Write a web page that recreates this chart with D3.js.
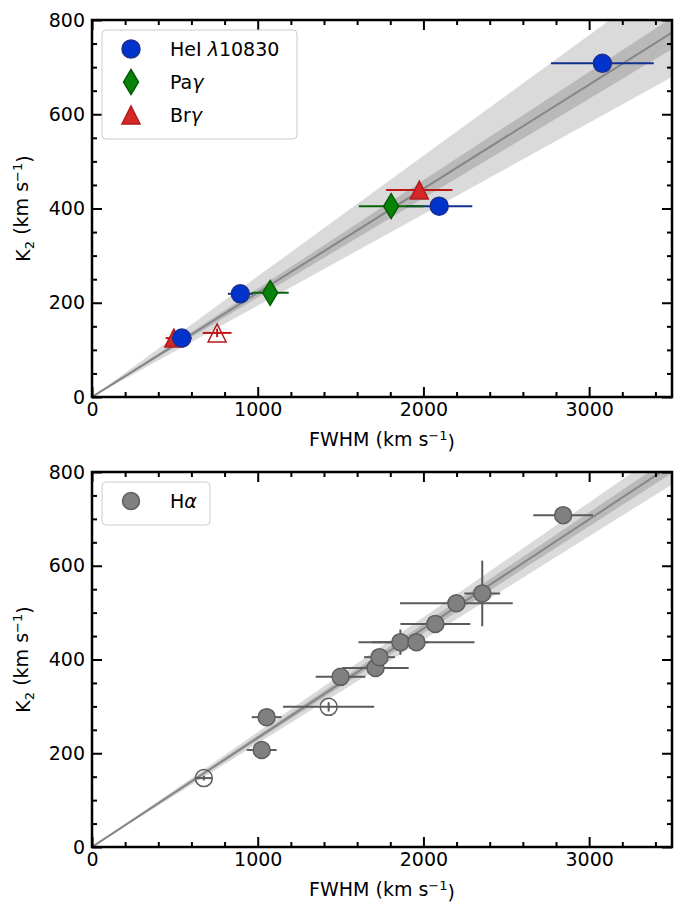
<!DOCTYPE html>
<html>
<head>
<meta charset="utf-8">
<script src="https://cdn.jsdelivr.net/npm/d3@7"></script>
<style>
body { margin: 0; background: #fff; }
text { font-family: "DejaVu Sans", sans-serif; }
</style>
</head>
<body>
<div id="chart"></div>
<script>
// top panel: HeI, Pa gamma, Br gamma
var heiFwhm = [542, 895, 2095, 3080],
    heiFwhmErr = [60, 75, 200, 310],
    heiK2 = [125, 219, 405, 708],
    heiK2Err = [5, 6, 8, 10];

var pagFwhm = [1075, 1805],
    pagFwhmErr = [112, 195],
    pagK2 = [221, 405],
    pagK2Err = [6, 8];

var brgFwhm = [494, 755, 1975],
    brgFwhmErr = [50, 87, 200],
    brgK2 = [125, 136, 439],
    brgK2Err = [5, 9, 8],
    brgOpen = [false, true, false];

// bottom panel: H alpha
var haFwhm = [675, 1024, 1054, 1428, 1500, 1711, 1735, 1861, 1958, 2072, 2199, 2355, 2843],
    haFwhmErr = [50, 90, 90, 275, 150, 200, 93, 170, 350, 211, 340, 108, 180],
    haK2 = [147, 207, 277, 299, 363, 382, 405, 437, 437, 476, 520, 541, 708],
    haK2Err = [5, 5, 5, 10, 5, 5, 8, 27, 5, 5, 5, 70, 5],
    haOpen = [true, false, false, true, false, false, false, false, false, false, false, false, false];

// fitted K2 = slope * FWHM, with 1 and 2 sigma wedges
var topSlope = 0.221, topDark = [0.211, 0.230], topLight = [0.194, 0.256];
var botSlope = 0.233, botDark = [0.228, 0.238], botLight = [0.221, 0.245];

var xTicks = [0, 1000, 2000, 3000],
    xMinor = [200, 400, 600, 800, 1200, 1400, 1600, 1800, 2200, 2400, 2600, 2800, 3200, 3400],
    yTicks = [0, 200, 400, 600, 800],
    yMinor = [50, 100, 150, 250, 300, 350, 450, 500, 550, 650, 700, 750];

var margin = {left: 92},
    width = 580;

var svg = d3.select("#chart")
    .append("svg")
    .attr("width", 684)
    .attr("height", 902);

var x = d3.scaleLinear().domain([0, 3500]).range([0, width]);

function axes(g, y, h) {
    function clean(sel) {
        sel.select(".domain").remove();
        sel.selectAll("line").attr("stroke", "#000").attr("stroke-width", 2);
        sel.selectAll("text").attr("fill", "#000").style("font-size", "19px").style("font-family", "DejaVu Sans");
    }
    g.append("g").attr("transform", "translate(0," + h + ")")
        .call(d3.axisBottom(x).tickValues(xTicks).tickSize(-10).tickPadding(6).tickFormat(d3.format("d"))).call(clean);
    g.append("g").attr("transform", "translate(0," + h + ")")
        .call(d3.axisBottom(x).tickValues(xMinor).tickSize(-5).tickFormat("")).call(clean);
    g.append("g")
        .call(d3.axisTop(x).tickValues(xTicks).tickSize(-10).tickFormat("")).call(clean);
    g.append("g")
        .call(d3.axisTop(x).tickValues(xMinor).tickSize(-5).tickFormat("")).call(clean);
    g.append("g")
        .call(d3.axisLeft(y).tickValues(yTicks).tickSize(-10).tickPadding(7).tickFormat(d3.format("d"))).call(clean);
    g.append("g")
        .call(d3.axisLeft(y).tickValues(yMinor).tickSize(-5).tickFormat("")).call(clean);
    g.append("g").attr("transform", "translate(" + width + ",0)")
        .call(d3.axisRight(y).tickValues(yTicks).tickSize(-10).tickFormat("")).call(clean);
    g.append("g").attr("transform", "translate(" + width + ",0)")
        .call(d3.axisRight(y).tickValues(yMinor).tickSize(-5).tickFormat("")).call(clean);

    g.append("rect")
        .attr("width", width).attr("height", h)
        .attr("fill", "none").attr("stroke", "#000").attr("stroke-width", 2.5);

    var xl = g.append("text")
        .attr("x", width / 2).attr("y", h + 49)
        .attr("text-anchor", "middle")
        .style("font-size", "19px");
    xl.append("tspan").text("FWHM (km s");
    xl.append("tspan").attr("dy", "-0.5em").style("font-size", "13px").text("\u22121");
    xl.append("tspan").attr("dy", "0.5em").text(")");

    var yl = g.append("text")
        .attr("transform", "translate(-62," + (h / 2) + ")rotate(-90)")
        .attr("text-anchor", "middle")
        .style("font-size", "19px");
    yl.append("tspan").text("K");
    yl.append("tspan").attr("dy", "0.3em").style("font-size", "13px").text("2");
    yl.append("tspan").attr("dy", "-0.3em").text(" (km s");
    yl.append("tspan").attr("dy", "-0.5em").style("font-size", "13px").text("\u22121");
    yl.append("tspan").attr("dy", "0.5em").text(")");
}

function wedge(g, y, h, id, light, dark, slope) {
    g.append("clipPath").attr("id", id)
        .append("rect").attr("width", width).attr("height", h);
    var c = g.append("g").attr("clip-path", "url(#" + id + ")");
    var xmax = x.domain()[1];
    var line = d3.line().x(d => x(d[0])).y(d => y(d[1]));
    c.append("path")
        .attr("d", line([[0, 0], [xmax, light[0] * xmax], [xmax, light[1] * xmax]]) + "Z")
        .attr("fill", "#dadada");
    c.append("path")
        .attr("d", line([[0, 0], [xmax, dark[0] * xmax], [xmax, dark[1] * xmax]]) + "Z")
        .attr("fill", "#b9b9b9");
    c.append("path")
        .attr("d", line([[0, 0], [xmax, slope * xmax]]))
        .attr("stroke", "#868686").attr("stroke-width", 2).attr("fill", "none");
}

var circlePath = "M9,0A9,9 0 1,1 -9,0A9,9 0 1,1 9,0Z",
    haPath = "M8.5,0A8.5,8.5 0 1,1 -8.5,0A8.5,8.5 0 1,1 8.5,0Z",
    diamondPath = "M0,-12.5L7.5,0L0,12.5L-7.5,0Z",
    trianglePath = "M0,-9L9,9L-9,9Z";

function series(g, y, fwhm, fwhmErr, k2, k2Err, open, shape, fill, edge, barColor) {
    var pts = fwhm.map((d, i) => ({f: d, fe: fwhmErr[i], k: k2[i], ke: k2Err[i], open: open ? open[i] : false}));
    var s = g.append("g");
    s.selectAll(".hbar").data(pts).enter().append("line")
        .attr("x1", d => x(d.f - d.fe)).attr("x2", d => x(d.f + d.fe))
        .attr("y1", d => y(d.k)).attr("y2", d => y(d.k))
        .attr("stroke", barColor).attr("stroke-width", 2);
    s.selectAll(".vbar").data(pts).enter().append("line")
        .attr("x1", d => x(d.f)).attr("x2", d => x(d.f))
        .attr("y1", d => y(d.k - d.ke)).attr("y2", d => y(d.k + d.ke))
        .attr("stroke", barColor).attr("stroke-width", 2);
    s.selectAll(".mark").data(pts).enter().append("path")
        .attr("d", shape)
        .attr("transform", d => "translate(" + x(d.f) + "," + y(d.k) + ")")
        .attr("fill", d => d.open ? "none" : fill)
        .attr("stroke", edge).attr("stroke-width", 1.5);
}

function legend(g, items, w) {
    var lg = g.append("g").attr("transform", "translate(10,10)");
    lg.append("rect")
        .attr("width", w).attr("height", 10 + items.length * 33)
        .attr("rx", 4)
        .attr("fill", "#fff").attr("fill-opacity", 0.8)
        .attr("stroke", "#cccccc").attr("stroke-width", 1);
    items.forEach((it, i) => {
        var cy = 19 + i * 33;
        lg.append("path").attr("d", it.shape)
            .attr("transform", "translate(29," + cy + ")")
            .attr("fill", it.fill).attr("stroke", it.edge).attr("stroke-width", 1.5);
        var t = lg.append("text").attr("x", 68).attr("y", cy + 7).style("font-size", "19px");
        it.label.forEach(p => {
            t.append("tspan").style("font-style", p[1] ? "italic" : "normal").text(p[0]);
        });
    });
}

// ---- top panel ----
var h1 = 377;
var g1 = svg.append("g").attr("transform", "translate(" + margin.left + ",20)");
var y1 = d3.scaleLinear().domain([0, 800]).range([h1, 0]);
wedge(g1, y1, h1, "clip1", topLight, topDark, topSlope);
series(g1, y1, brgFwhm, brgFwhmErr, brgK2, brgK2Err, brgOpen, trianglePath, "#d62728", "#b31b1b", "#c01515");
series(g1, y1, heiFwhm, heiFwhmErr, heiK2, heiK2Err, null, circlePath, "#0033cc", "#1a2f8f", "#12308f");
series(g1, y1, pagFwhm, pagFwhmErr, pagK2, pagK2Err, null, diamondPath, "#078407", "#055a05", "#0a620a");
axes(g1, y1, h1);
legend(g1, [
    {shape: circlePath, fill: "#0033cc", edge: "#1a2f8f", label: [["HeI ", false], ["\u03bb", true], ["10830", false]]},
    {shape: diamondPath, fill: "#078407", edge: "#055a05", label: [["Pa", false], ["\u03b3", true]]},
    {shape: trianglePath, fill: "#d62728", edge: "#b31b1b", label: [["Br", false], ["\u03b3", true]]}
], 195);

// ---- bottom panel ----
var h2 = 375;
var g2 = svg.append("g").attr("transform", "translate(" + margin.left + ",472)");
var y2 = d3.scaleLinear().domain([0, 800]).range([h2, 0]);
wedge(g2, y2, h2, "clip2", botLight, botDark, botSlope);
series(g2, y2, haFwhm, haFwhmErr, haK2, haK2Err, haOpen, haPath, "#808080", "#5e5e5e", "#5a5a5a");
axes(g2, y2, h2);
legend(g2, [
    {shape: haPath, fill: "#808080", edge: "#5e5e5e", label: [["H", false], ["\u03b1", true]]}
], 108);
</script>
</body>
</html>
